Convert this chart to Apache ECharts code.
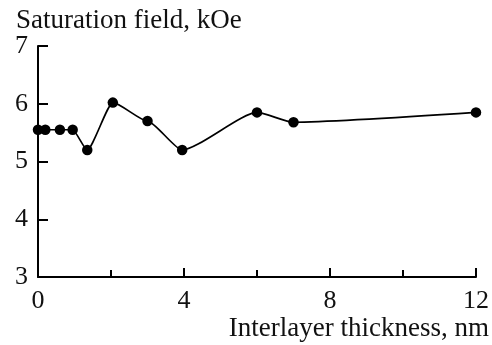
<!DOCTYPE html>
<html>
<head>
<meta charset="utf-8">
<script src="https://cdn.jsdelivr.net/npm/echarts@6/dist/echarts.min.js"></script>
<style>
html,body{margin:0;padding:0;background:#fff;}
#chart{width:492px;height:345px;}
</style>
</head>
<body>
<div id="chart"></div>
<script>
const thickness = [0, 0.2, 0.6, 0.95, 1.35, 2.05, 3, 3.95, 6, 7, 12];
const saturation = [5.55, 5.55, 5.55, 5.55, 5.2, 6.02, 5.7, 5.2, 5.85, 5.68, 5.85];
const xTicks = [0, 4, 8, 12];
const yTicks = [3, 4, 5, 6, 7];
const xTitle = 'Interlayer thickness, nm';
const yTitle = 'Saturation field, kOe';

const font = 'Liberation Serif';
const fs = 26;
const fsName = 27;
const chart = echarts.init(document.getElementById('chart'), null, {renderer: 'canvas'});
chart.setOption({
  animation: false,
  backgroundColor: '#fff',
  title: {
    text: yTitle,
    left: 11,
    top: 2,
    textStyle: {fontFamily: font, fontSize: fsName, fontWeight: 'normal', color: '#111'}
  },
  grid: {left: 38, right: 16, top: 46, bottom: 68, containLabel: false},
  xAxis: {
    type: 'value',
    min: xTicks[0], max: xTicks[xTicks.length - 1], interval: 4,
    name: xTitle,
    nameLocation: 'end',
    nameGap: 13,
    nameTextStyle: {fontFamily: font, fontSize: fsName, color: '#111', align: 'right', verticalAlign: 'top', padding: [38, 0, 0, 0]},
    axisLine: {show: true, onZero: false, lineStyle: {color: '#000', width: 2}},
    axisTick: {show: true, inside: true, length: 9, lineStyle: {color: '#000', width: 2}},
    minorTick: {show: true, splitNumber: 2, length: 7, lineStyle: {color: '#000', width: 2}},
    axisLabel: {fontFamily: font, fontSize: fs, color: '#111', margin: 11},
    splitLine: {show: false}
  },
  yAxis: {
    type: 'value',
    min: yTicks[0], max: yTicks[yTicks.length - 1], interval: 1,
    axisLine: {show: true, onZero: false, lineStyle: {color: '#000', width: 2}},
    axisTick: {show: true, inside: true, length: 10, lineStyle: {color: '#000', width: 2}},
    axisLabel: {fontFamily: font, fontSize: fs, color: '#111', margin: 10},
    splitLine: {show: false}
  },
  series: [{
    type: 'line',
    data: thickness.map((x, i) => [x, saturation[i]]),
    smooth: 0.2,
    smoothMonotone: 'x',
    symbol: 'circle',
    symbolSize: 10.5,
    lineStyle: {color: '#000', width: 1.7},
    itemStyle: {color: '#000'},
    clip: false
  }]
});
</script>
</body>
</html>
